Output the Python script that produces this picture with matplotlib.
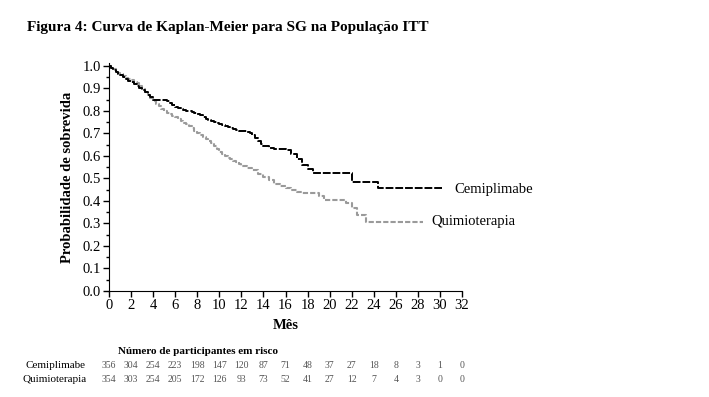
import matplotlib
matplotlib.use("Agg")
from matplotlib import pyplot as plt
from matplotlib import transforms
import numpy as np

plt.rcParams['font.family'] = ['Liberation Serif', 'DejaVu Serif']

# Kaplan-Meier curves (month, survival probability)
cemi_t = [0, 0.2, 0.4, 0.6, 0.8, 1, 1.25, 1.5, 1.75, 2, 2.25, 2.5, 2.75, 3, 3.25, 3.5,
          3.75, 4, 5.3, 5.5, 5.75, 6, 6.25, 6.5, 6.75, 7, 7.5, 7.75, 8, 8.25, 8.5,
          8.75, 9, 9.25, 9.5, 9.75, 10, 10.25, 10.5, 10.75, 11, 11.25, 11.5, 11.75,
          12, 12.5, 12.75, 13, 13.25, 13.5, 13.75, 14, 14.5, 15, 16, 16.5, 17,
          17.5, 18, 18.5, 22, 24.4, 30.3]
cemi_s = [1.0, 0.99, 0.98, 0.972, 0.965, 0.958, 0.95, 0.943, 0.935, 0.928, 0.92,
          0.912, 0.903, 0.893, 0.882, 0.872, 0.862, 0.85, 0.845, 0.835, 0.825,
          0.818, 0.812, 0.808, 0.804, 0.80, 0.797, 0.792, 0.787, 0.78, 0.772,
          0.765, 0.76, 0.755, 0.75, 0.745, 0.74, 0.736, 0.732, 0.728, 0.724,
          0.72, 0.716, 0.712, 0.709, 0.706, 0.70, 0.692, 0.68, 0.668, 0.655,
          0.645, 0.637, 0.633, 0.628, 0.61, 0.585, 0.56, 0.54, 0.524, 0.484,
          0.458, 0.458]

quimio_t = [0, 0.2, 0.4, 0.6, 0.8, 1, 1.25, 1.5, 1.75, 2, 2.25, 2.5, 2.75, 3, 3.25,
            3.5, 3.75, 4, 4.25, 4.5, 4.75, 5, 5.25, 5.5, 5.75, 6, 6.25, 6.5, 6.75,
            7, 7.25, 7.5, 7.75, 8, 8.25, 8.5, 8.75, 9, 9.25, 9.5, 9.75, 10, 10.25,
            10.5, 10.75, 11, 11.25, 11.5, 11.75, 12, 12.5, 13, 13.5, 14, 14.5, 15,
            15.5, 16, 16.5, 17, 17.5, 19, 19.5, 21.5, 22, 22.5, 23.3, 28.5]
quimio_s = [1.0, 0.992, 0.985, 0.978, 0.97, 0.963, 0.955, 0.948, 0.942, 0.937,
            0.93, 0.922, 0.91, 0.897, 0.885, 0.872, 0.858, 0.845, 0.833, 0.821,
            0.81, 0.80, 0.793, 0.786, 0.779, 0.771, 0.764, 0.756, 0.748, 0.74,
            0.731, 0.722, 0.712, 0.70, 0.693, 0.685, 0.676, 0.667, 0.656, 0.645,
            0.632, 0.617, 0.608, 0.60, 0.593, 0.586, 0.578, 0.571, 0.563, 0.555,
            0.546, 0.536, 0.522, 0.507, 0.492, 0.477, 0.466, 0.456, 0.45, 0.442,
            0.436, 0.42, 0.404, 0.39, 0.37, 0.338, 0.305, 0.305]

# numbers at risk
risk_months = list(range(0, 33, 2))
risk_cemi = [356, 304, 254, 223, 198, 147, 120, 87, 71, 48, 37, 27, 18, 8, 3, 1, 0]
risk_quimio = [354, 303, 254, 205, 172, 126, 93, 73, 52, 41, 27, 12, 7, 4, 3, 0, 0]


fig = plt.figure(figsize=(7.09, 3.97), dpi=100)
ax = fig.add_axes([109/709, 1-291/397, 353/709, 228/397])

ax.plot(quimio_t, quimio_s, drawstyle='steps-post', color='#9a9a9a', lw=1.5,
        linestyle=(0, (2.5, 1)))
ax.plot(cemi_t, cemi_s, drawstyle='steps-post', color='black', lw=1.4,
        linestyle=(0, (4, 1)))

ax.set_xlim(0, 32)
ax.set_ylim(0, 1.013)
ax.set_xticks(np.arange(0, 33, 2))
ax.set_yticks(np.arange(0, 1.01, 0.1))
ax.set_yticks(np.arange(0.05, 1.0, 0.1), minor=True)
ax.set_yticklabels(["%.1f" % v for v in np.arange(0, 1.01, 0.1)])
ax.tick_params(axis='both', direction='out', length=4, width=1, labelsize=10.5, pad=2)
ax.tick_params(axis='y', which='minor', direction='out', length=2.5, width=1)
ax.spines['top'].set_visible(False)
ax.spines['right'].set_visible(False)
ax.set_ylabel("Probabilidade de sobrevida", fontsize=10.5, fontweight='bold', labelpad=6)
ax.set_xlabel("Mês", fontsize=10.5, fontweight='bold', labelpad=5)

ax.text(31.3, 0.453, "Cemiplimabe", fontsize=10.5, va='center', ha='left', clip_on=False)
ax.text(29.2, 0.307, "Quimioterapia", fontsize=10.5, va='center', ha='left', clip_on=False)

fig.text(27/709, 1-28/397, "Figura 4: Curva de Kaplan-Meier para SG na População ITT",
         fontsize=11, fontweight='bold', va='center', ha='left')

# risk table
fig.text(198/709, 1-352/397, "Número de participantes em risco", fontsize=8,
         fontweight='bold', ha='center', va='center')
fig.text(55/709, 1-366/397, "Cemiplimabe", fontsize=8, ha='center', va='center')
fig.text(55/709, 1-380/397, "Quimioterapia", fontsize=8, ha='center', va='center')
trans = transforms.blended_transform_factory(ax.transData, fig.transFigure)
for m, a, b in zip(risk_months, risk_cemi, risk_quimio):
    ax.text(m, 1-366/397, str(a), transform=trans, fontsize=7, color='#555555',
            ha='center', va='center', clip_on=False)
    ax.text(m, 1-380/397, str(b), transform=trans, fontsize=7, color='#555555',
            ha='center', va='center', clip_on=False)

fig.savefig("out.png", dpi=100)
